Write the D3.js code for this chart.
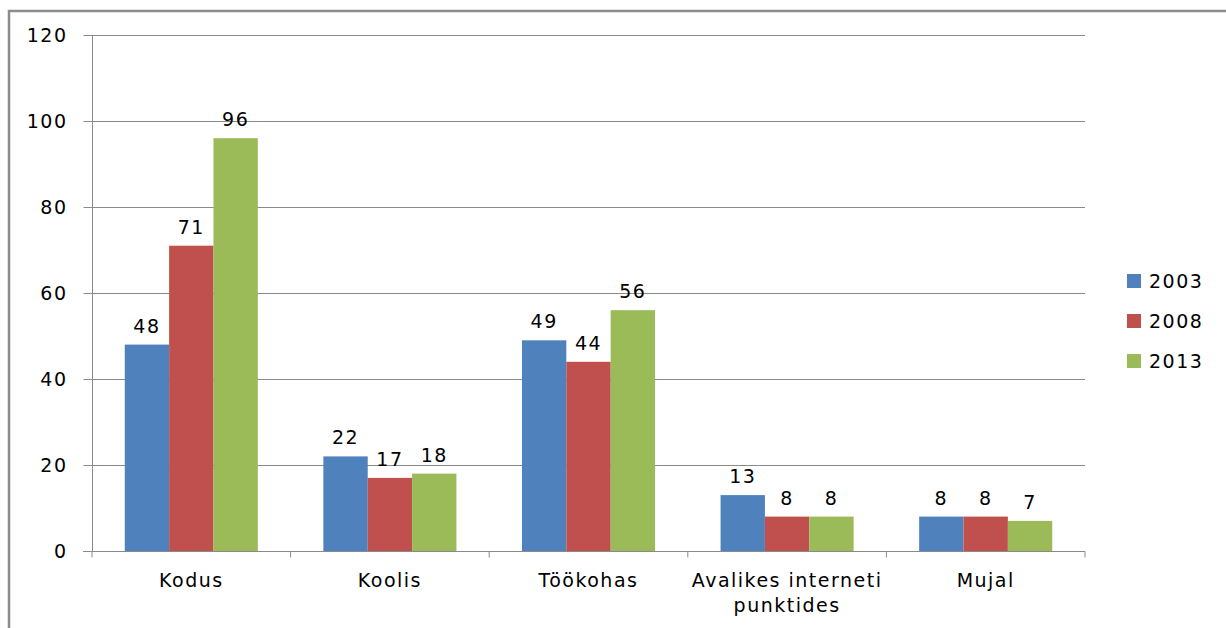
<!DOCTYPE html>
<html><head><meta charset="utf-8">
<script src="https://cdn.jsdelivr.net/npm/d3@7"></script>
<style>body{margin:0;background:#fff}svg{display:block}text{font-family:"DejaVu Sans",Verdana,sans-serif;fill:#000}</style>
</head><body>
<svg id="c" width="1226" height="628"></svg>
<script>
const categories = [["Kodus"], ["Koolis"], ["Töökohas"], ["Avalikes interneti", "punktides"], ["Mujal"]];
const seriesNames = ["2003", "2008", "2013"];
const values2003 = [48, 22, 49, 13, 8];
const values2008 = [71, 17, 44, 8, 8];
const values2013 = [96, 18, 56, 8, 7];
const yTicks = [0, 20, 40, 60, 80, 100, 120];
const colors = ["#4f81bd", "#c0504d", "#9bbb59"];

const series = [values2003, values2008, values2013];
const svg = d3.select("#c");
const L = 92, R = 1085, T = 35, B = 551;
const FS = "19px", LS = "1.5px";
const y = d3.scaleLinear().domain([0, 120]).range([B, T]);
const x = d3.scaleBand().domain(d3.range(categories.length)).range([L, R]).paddingInner(0).paddingOuter(0);
const gw = x.bandwidth() * 0.67;
const xs = d3.scaleBand().domain(d3.range(3)).range([0, gw]);

// outer frame
svg.append("path").attr("d", "M9,628V11H1226").attr("fill", "none").attr("stroke", "#8c8c8c").attr("stroke-width", 2.5);

// gridlines
svg.append("g").selectAll("line").data(yTicks.filter(d => d > 0)).join("line")
  .attr("x1", L).attr("x2", R).attr("y1", d => Math.round(y(d)) + 0.5).attr("y2", d => Math.round(y(d)) + 0.5)
  .attr("stroke", "#8a8a8a").attr("stroke-width", 1);

// y axis
const ya = svg.append("g").attr("transform", `translate(${L + 0.5},0)`)
  .call(d3.axisLeft(y).tickValues(yTicks).tickSize(9).tickPadding(16).tickFormat(d3.format("d")));
ya.select(".domain").attr("stroke", "#8a8a8a").attr("d", `M0,${T}V${B}`);
ya.selectAll(".tick line").attr("stroke", "#8a8a8a");
ya.selectAll("text").style("font-size", FS).style("letter-spacing", LS).attr("font-family", null);

// bars
const groups = svg.append("g").selectAll("g").data(categories).join("g")
  .attr("transform", (d, i) => `translate(${x(i) + (x.bandwidth() - gw) / 2},0)`);
series.forEach((vals, s) => {
  groups.append("rect")
    .attr("x", xs(s)).attr("width", xs.bandwidth())
    .attr("y", (d, i) => y(vals[i])).attr("height", (d, i) => B - y(vals[i]))
    .attr("fill", colors[s]);
  groups.append("text")
    .attr("x", xs(s) + xs.bandwidth() / 2).attr("y", (d, i) => y(vals[i]) - 12)
    .attr("text-anchor", "middle").style("font-size", FS).style("letter-spacing", LS)
    .text((d, i) => vals[i]);
});

// x axis
const xa = svg.append("g").attr("transform", `translate(0,${B + 0.5})`);
xa.append("line").attr("x1", L - 9).attr("x2", R).attr("stroke", "#8a8a8a");
xa.selectAll(".tk").data(d3.range(categories.length + 1)).join("line")
  .attr("x1", i => i < categories.length ? x(i) : R).attr("x2", i => i < categories.length ? x(i) : R)
  .attr("y1", 0).attr("y2", 6).attr("stroke", "#8a8a8a");
const xl = xa.selectAll(".lb").data(categories).join("text")
  .attr("text-anchor", "middle").style("font-size", FS).style("letter-spacing", LS)
  .attr("transform", (d, i) => `translate(${x(i) + x.bandwidth() / 2},35)`);
xl.selectAll("tspan").data(d => d).join("tspan").attr("x", 0).attr("dy", (d, j) => j ? 25 : 0).text(d => d);

// legend
const lg = svg.append("g").selectAll("g").data(seriesNames).join("g")
  .attr("transform", (d, i) => `translate(1127,${274 + i * 40})`);
lg.append("rect").attr("width", 14).attr("height", 14).attr("fill", (d, i) => colors[i]);
lg.append("text").attr("x", 22).attr("y", 14).style("font-size", FS).style("letter-spacing", LS).text(d => d);
</script>
</body></html>
